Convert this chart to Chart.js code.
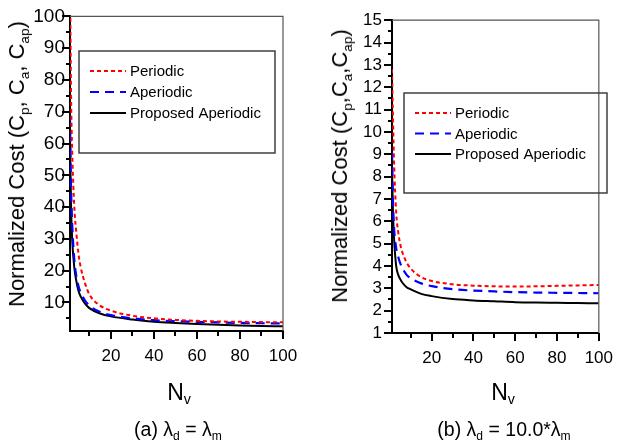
<!DOCTYPE html>
<html>
<head>
<meta charset="utf-8">
<script src="https://cdn.jsdelivr.net/npm/chart.js@4"></script>
<style>
    body { margin: 0; background: #fff; }
    #wrap { position: relative; width: 628px; height: 443px; overflow: hidden; font-family: 'Liberation Sans', Arial, sans-serif; color: #000; }
    canvas { position: absolute; top: 0; }
    .lbl { position: absolute; white-space: nowrap; transform: translate(-50%, -50%); line-height: 1; }
    .ytitle { font-size: 22px; transform: translate(-50%, -50%) rotate(-90deg); }
    .xtitle { font-size: 23px; }
    .caption { font-size: 19.5px; }
    sub { font-size: 0.62em; vertical-align: -0.35em; line-height: 0; }
</style>
</head>
<body>
<div id="wrap">
    <canvas id="chartA" width="314" height="443" style="left:0"></canvas>
    <canvas id="chartB" width="314" height="443" style="left:314px"></canvas>

    <div class="lbl ytitle" style="left:17px;top:164px">Normalized Cost (C<sub>p</sub>, C<sub>a</sub>, C<sub>ap</sub>)</div>
    <div class="lbl ytitle" style="left:340px;top:166px">Normalized Cost (C<sub>p</sub>,C<sub>a</sub>,C<sub>ap</sub>)</div>

    <div class="lbl xtitle" style="left:179px;top:392px">N<sub>v</sub></div>
    <div class="lbl xtitle" style="left:503px;top:392px">N<sub>v</sub></div>

    <div class="lbl caption" style="left:178px;top:430px">(a) λ<sub>d</sub> = λ<sub>m</sub></div>
    <div class="lbl caption" style="left:504px;top:430px">(b) λ<sub>d</sub> = 10.0*λ<sub>m</sub></div>
</div>

<script>
// N_v sample points
const nv = [1, 1.5, 2, 3, 4, 5, 6, 8, 10, 15, 20, 30, 40, 50, 60, 70, 80, 90, 100];

// (a) lambda_d = lambda_m
const periodicA  = [115, 75, 58, 40, 31.5, 25, 21, 16, 12.5, 9, 7.4, 5.8, 5.0, 4.5, 4.2, 4.0, 3.9, 3.8, 3.75];
const aperiodicA = [68, 46, 35, 23.5, 18, 15, 13, 10.6, 9.0, 7.0, 6.0, 5.0, 4.4, 4.1, 3.9, 3.7, 3.55, 3.45, 3.4];
const proposedA  = [62, 40, 30, 21, 16.5, 13.5, 11.8, 9.6, 8.2, 6.5, 5.6, 4.6, 3.9, 3.5, 3.2, 2.95, 2.75, 2.6, 2.5];

// (b) lambda_d = 10.0*lambda_m
const periodicB  = [12.8, 10.5, 8.6, 6.4, 5.5, 4.95, 4.6, 4.15, 3.88, 3.5, 3.33, 3.18, 3.12, 3.09, 3.08, 3.09, 3.11, 3.13, 3.15];
const aperiodicB = [9.1, 6.8, 5.7, 4.8, 4.4, 4.1, 3.9, 3.6, 3.45, 3.22, 3.1, 2.96, 2.9, 2.86, 2.83, 2.81, 2.8, 2.79, 2.78];
const proposedB  = [8.4, 6.3, 5.2, 4.0, 3.6, 3.4, 3.25, 3.05, 2.95, 2.75, 2.65, 2.52, 2.46, 2.42, 2.38, 2.36, 2.35, 2.34, 2.33];

const seriesNames = ['Periodic', 'Aperiodic', 'Proposed Aperiodic'];

// ticks
const xTicks = [10, 20, 30, 40, 50, 60, 70, 80, 90, 100];
const xLabels = [20, 40, 60, 80, 100];
const yTicksA = [5, 10, 15, 20, 25, 30, 35, 40, 45, 50, 55, 60, 65, 70, 75, 80, 85, 90, 95, 100];
const yLabelsA = [10, 20, 30, 40, 50, 60, 70, 80, 90, 100];
const yTicksB = [1, 1.5, 2, 2.5, 3, 3.5, 4, 4.5, 5, 5.5, 6, 6.5, 7, 7.5, 8, 8.5, 9, 9.5, 10, 10.5, 11, 11.5, 12, 12.5, 13, 13.5, 14, 14.5, 15];
const yLabelsB = [1, 2, 3, 4, 5, 6, 7, 8, 9, 10, 11, 12, 13, 14, 15];

const FONT = "'Liberation Sans', Arial, sans-serif";

function toPoints(values) {
    return nv.map((n, i) => ({ x: n, y: values[i] }));
}

// frame on top/right, outward tick marks, boxed legend
const framePlugin = {
    id: 'frame',
    afterDraw(chart, args, opts) {
        const { ctx, chartArea: a, scales: { x, y } } = chart;
        ctx.save();

        ctx.strokeStyle = '#555';
        ctx.lineWidth = 1.2;
        ctx.beginPath();
        ctx.moveTo(a.left, a.top);
        ctx.lineTo(a.right, a.top);
        ctx.lineTo(a.right, a.bottom);
        ctx.stroke();

        ctx.strokeStyle = '#000';
        ctx.lineWidth = 2;
        ctx.beginPath();
        x.ticks.forEach(t => {
            const px = Math.round(x.getPixelForValue(t.value));
            const len = xLabels.includes(t.value) ? 8 : 5;
            ctx.moveTo(px, a.bottom);
            ctx.lineTo(px, a.bottom + len);
        });
        y.ticks.forEach(t => {
            const py = Math.round(y.getPixelForValue(t.value));
            const len = opts.yMajor.includes(t.value) ? 8 : 4;
            ctx.moveTo(a.left, py);
            ctx.lineTo(a.left - len, py);
        });
        ctx.stroke();

        // legend
        const lg = opts.legend;
        ctx.strokeStyle = '#333';
        ctx.lineWidth = 1.4;
        ctx.strokeRect(lg.left, lg.top, lg.width, lg.height);

        ctx.font = '15px ' + FONT;
        ctx.fillStyle = '#000';
        ctx.textBaseline = 'middle';
        chart.data.datasets.forEach((ds, i) => {
            const rowY = lg.firstRow + i * lg.rowGap;
            ctx.save();
            ctx.strokeStyle = ds.borderColor;
            ctx.lineWidth = ds.borderWidth;
            ctx.setLineDash(ds.borderDash || []);
            ctx.beginPath();
            ctx.moveTo(lg.lineStart, rowY);
            ctx.lineTo(lg.lineStart + 36, rowY);
            ctx.stroke();
            ctx.restore();
            ctx.fillText(ds.label, lg.lineStart + 40, rowY + 1);
        });

        ctx.restore();
    }
};

function buildChart(canvasId, values, cfg) {
    const ctx = document.getElementById(canvasId).getContext('2d');
    const styles = [
        { borderColor: '#ff0000', borderDash: [4, 3], borderWidth: 2 },
        { borderColor: '#0000ff', borderDash: [9, 6], borderWidth: 2.2 },
        { borderColor: '#000000', borderDash: [], borderWidth: 2 }
    ];

    return new Chart(ctx, {
        type: 'line',
        data: {
            datasets: values.map((v, i) => ({
                label: seriesNames[i],
                data: toPoints(v),
                borderColor: styles[i].borderColor,
                borderDash: styles[i].borderDash,
                borderWidth: styles[i].borderWidth,
                pointRadius: 0,
                cubicInterpolationMode: 'monotone',
                fill: false
            }))
        },
        options: {
            responsive: false,
            animation: false,
            events: [],
            layout: { padding: { top: cfg.top, right: cfg.right, left: 0, bottom: 0 } },
            plugins: {
                legend: { display: false },
                tooltip: { enabled: false },
                frame: { yMajor: cfg.yLabels, legend: cfg.legend }
            },
            scales: {
                x: {
                    type: 'linear',
                    min: 1,
                    max: 100,
                    afterBuildTicks: s => { s.ticks = xTicks.map(v => ({ value: v })); },
                    afterFit: s => { s.height = cfg.xHeight; },
                    grid: { display: false, drawTicks: false },
                    border: { display: true, color: '#000', width: 2 },
                    ticks: {
                        autoSkip: false,
                        maxRotation: 0,
                        padding: 15,
                        color: '#000',
                        font: { family: FONT, size: 17 },
                        callback: v => xLabels.includes(v) ? String(v) : ''
                    }
                },
                y: {
                    type: 'linear',
                    min: cfg.yMin,
                    max: cfg.yMax,
                    afterBuildTicks: s => { s.ticks = cfg.yTicks.map(v => ({ value: v })); },
                    afterFit: s => { s.width = cfg.yWidth; },
                    grid: { display: false, drawTicks: false },
                    border: { display: true, color: '#000', width: 2 },
                    ticks: {
                        autoSkip: false,
                        padding: cfg.yPad,
                        color: '#000',
                        font: { family: FONT, size: cfg.yFont },
                        callback: v => cfg.yLabels.includes(v) ? String(v) : ''
                    }
                }
            }
        },
        plugins: [framePlugin]
    });
}

document.addEventListener('DOMContentLoaded', function() {
    buildChart('chartA', [periodicA, aperiodicA, proposedA], {
        top: 14, right: 31, xHeight: 112, yWidth: 70,
        yMin: 1, yMax: 100, yTicks: yTicksA, yLabels: yLabelsA,
        yPad: 5, yFont: 19,
        legend: { left: 79, top: 51, width: 196, height: 102, lineStart: 90, firstRow: 71, rowGap: 21 }
    });

    buildChart('chartB', [periodicB, aperiodicB, proposedB], {
        top: 20, right: 15, xHeight: 110, yWidth: 78,
        yMin: 1, yMax: 15, yTicks: yTicksB, yLabels: yLabelsB,
        yPad: 10, yFont: 17,
        legend: { left: 90, top: 93, width: 203, height: 100, lineStart: 101, firstRow: 113, rowGap: 20.5 }
    });
});
</script>
</body>
</html>
